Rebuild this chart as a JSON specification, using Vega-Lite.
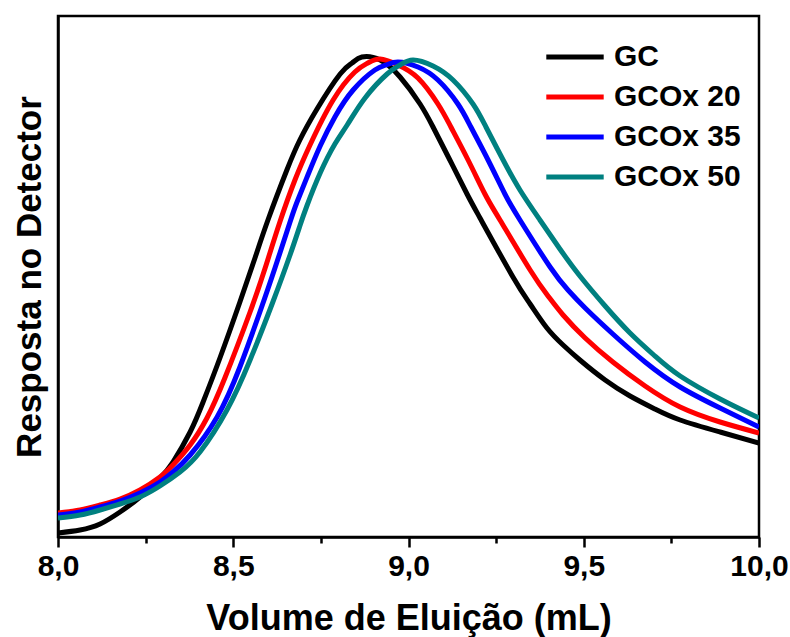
{
  "$schema": "https://vega.github.io/schema/vega-lite/v6.json",
  "width": 701,
  "height": 521,
  "autosize": "none",
  "padding": {"left": 58, "top": 16, "right": 31, "bottom": 100},
  "background": "white",
  "config": {
    "font": "Liberation Sans",
    "view": {"stroke": "black", "strokeWidth": 2.5},
    "axis": {"domainColor": "black", "domainWidth": 2.5, "grid": false}
  },
  "data": {
    "values": [
      {"v": 8.000, "r": 7, "s": "GC"}, {"v": 8.063, "r": 10, "s": "GC"}, {"v": 8.120, "r": 16, "s": "GC"},
      {"v": 8.177, "r": 28, "s": "GC"}, {"v": 8.234, "r": 43, "s": "GC"}, {"v": 8.291, "r": 62, "s": "GC"},
      {"v": 8.328, "r": 78, "s": "GC"}, {"v": 8.377, "r": 108, "s": "GC"}, {"v": 8.414, "r": 138, "s": "GC"},
      {"v": 8.462, "r": 182, "s": "GC"}, {"v": 8.519, "r": 238, "s": "GC"}, {"v": 8.562, "r": 282, "s": "GC"},
      {"v": 8.599, "r": 320, "s": "GC"}, {"v": 8.653, "r": 370, "s": "GC"}, {"v": 8.690, "r": 400, "s": "GC"},
      {"v": 8.739, "r": 431, "s": "GC"}, {"v": 8.805, "r": 466, "s": "GC"}, {"v": 8.839, "r": 477, "s": "GC"},
      {"v": 8.867, "r": 483, "s": "GC"}, {"v": 8.919, "r": 480, "s": "GC"}, {"v": 8.976, "r": 463, "s": "GC"},
      {"v": 9.033, "r": 436, "s": "GC"}, {"v": 9.070, "r": 413, "s": "GC"}, {"v": 9.118, "r": 380, "s": "GC"},
      {"v": 9.167, "r": 346, "s": "GC"}, {"v": 9.204, "r": 322, "s": "GC"}, {"v": 9.298, "r": 263, "s": "GC"},
      {"v": 9.347, "r": 236, "s": "GC"}, {"v": 9.395, "r": 212, "s": "GC"}, {"v": 9.441, "r": 195, "s": "GC"},
      {"v": 9.489, "r": 180, "s": "GC"}, {"v": 9.561, "r": 160, "s": "GC"}, {"v": 9.632, "r": 144, "s": "GC"},
      {"v": 9.703, "r": 131, "s": "GC"}, {"v": 9.775, "r": 120, "s": "GC"}, {"v": 9.889, "r": 108, "s": "GC"},
      {"v": 10.0, "r": 97, "s": "GC"},

      {"v": 8.000, "r": 27, "s": "GCOx 20"}, {"v": 8.063, "r": 30, "s": "GCOx 20"}, {"v": 8.120, "r": 35, "s": "GCOx 20"},
      {"v": 8.177, "r": 41, "s": "GCOx 20"}, {"v": 8.234, "r": 50, "s": "GCOx 20"}, {"v": 8.291, "r": 63, "s": "GCOx 20"},
      {"v": 8.328, "r": 75, "s": "GCOx 20"}, {"v": 8.377, "r": 95, "s": "GCOx 20"}, {"v": 8.425, "r": 122, "s": "GCOx 20"},
      {"v": 8.476, "r": 162, "s": "GCOx 20"}, {"v": 8.548, "r": 228, "s": "GCOx 20"}, {"v": 8.591, "r": 272, "s": "GCOx 20"},
      {"v": 8.633, "r": 318, "s": "GCOx 20"}, {"v": 8.676, "r": 360, "s": "GCOx 20"}, {"v": 8.719, "r": 395, "s": "GCOx 20"},
      {"v": 8.785, "r": 440, "s": "GCOx 20"}, {"v": 8.847, "r": 468, "s": "GCOx 20"}, {"v": 8.884, "r": 477, "s": "GCOx 20"},
      {"v": 8.919, "r": 481, "s": "GCOx 20"}, {"v": 8.970, "r": 475, "s": "GCOx 20"}, {"v": 9.027, "r": 462, "s": "GCOx 20"},
      {"v": 9.084, "r": 436, "s": "GCOx 20"}, {"v": 9.121, "r": 413, "s": "GCOx 20"}, {"v": 9.170, "r": 380, "s": "GCOx 20"},
      {"v": 9.218, "r": 346, "s": "GCOx 20"}, {"v": 9.261, "r": 320, "s": "GCOx 20"}, {"v": 9.347, "r": 270, "s": "GCOx 20"},
      {"v": 9.398, "r": 244, "s": "GCOx 20"}, {"v": 9.441, "r": 225, "s": "GCOx 20"}, {"v": 9.504, "r": 202, "s": "GCOx 20"},
      {"v": 9.583, "r": 178, "s": "GCOx 20"}, {"v": 9.675, "r": 154, "s": "GCOx 20"}, {"v": 9.775, "r": 133, "s": "GCOx 20"},
      {"v": 9.889, "r": 118, "s": "GCOx 20"}, {"v": 10.0, "r": 107, "s": "GCOx 20"},

      {"v": 8.000, "r": 25, "s": "GCOx 35"}, {"v": 8.063, "r": 28, "s": "GCOx 35"}, {"v": 8.120, "r": 33, "s": "GCOx 35"},
      {"v": 8.177, "r": 39, "s": "GCOx 35"}, {"v": 8.234, "r": 47, "s": "GCOx 35"}, {"v": 8.291, "r": 58, "s": "GCOx 35"},
      {"v": 8.328, "r": 68, "s": "GCOx 35"}, {"v": 8.377, "r": 85, "s": "GCOx 35"}, {"v": 8.454, "r": 123, "s": "GCOx 35"},
      {"v": 8.519, "r": 173, "s": "GCOx 35"}, {"v": 8.576, "r": 228, "s": "GCOx 35"}, {"v": 8.619, "r": 272, "s": "GCOx 35"},
      {"v": 8.662, "r": 318, "s": "GCOx 35"}, {"v": 8.682, "r": 338, "s": "GCOx 35"}, {"v": 8.713, "r": 365, "s": "GCOx 35"},
      {"v": 8.748, "r": 394, "s": "GCOx 35"}, {"v": 8.790, "r": 423, "s": "GCOx 35"}, {"v": 8.842, "r": 450, "s": "GCOx 35"},
      {"v": 8.904, "r": 470, "s": "GCOx 35"}, {"v": 8.936, "r": 475, "s": "GCOx 35"}, {"v": 8.970, "r": 478, "s": "GCOx 35"},
      {"v": 9.027, "r": 473, "s": "GCOx 35"}, {"v": 9.084, "r": 460, "s": "GCOx 35"}, {"v": 9.141, "r": 436, "s": "GCOx 35"},
      {"v": 9.178, "r": 413, "s": "GCOx 35"}, {"v": 9.227, "r": 380, "s": "GCOx 35"}, {"v": 9.275, "r": 346, "s": "GCOx 35"},
      {"v": 9.318, "r": 320, "s": "GCOx 35"}, {"v": 9.404, "r": 273, "s": "GCOx 35"}, {"v": 9.455, "r": 250, "s": "GCOx 35"},
      {"v": 9.504, "r": 232, "s": "GCOx 35"}, {"v": 9.583, "r": 206, "s": "GCOx 35"}, {"v": 9.675, "r": 178, "s": "GCOx 35"},
      {"v": 9.775, "r": 153, "s": "GCOx 35"}, {"v": 9.889, "r": 132, "s": "GCOx 35"}, {"v": 10.0, "r": 113, "s": "GCOx 35"},

      {"v": 8.000, "r": 22, "s": "GCOx 50"}, {"v": 8.063, "r": 25, "s": "GCOx 50"}, {"v": 8.120, "r": 30, "s": "GCOx 50"},
      {"v": 8.177, "r": 36, "s": "GCOx 50"}, {"v": 8.234, "r": 43, "s": "GCOx 50"}, {"v": 8.291, "r": 54, "s": "GCOx 50"},
      {"v": 8.348, "r": 68, "s": "GCOx 50"}, {"v": 8.405, "r": 88, "s": "GCOx 50"}, {"v": 8.482, "r": 130, "s": "GCOx 50"},
      {"v": 8.548, "r": 180, "s": "GCOx 50"}, {"v": 8.613, "r": 238, "s": "GCOx 50"}, {"v": 8.662, "r": 285, "s": "GCOx 50"},
      {"v": 8.690, "r": 314, "s": "GCOx 50"}, {"v": 8.710, "r": 334, "s": "GCOx 50"}, {"v": 8.748, "r": 367, "s": "GCOx 50"},
      {"v": 8.790, "r": 396, "s": "GCOx 50"}, {"v": 8.825, "r": 415, "s": "GCOx 50"}, {"v": 8.876, "r": 442, "s": "GCOx 50"},
      {"v": 8.939, "r": 466, "s": "GCOx 50"}, {"v": 8.976, "r": 475, "s": "GCOx 50"}, {"v": 9.013, "r": 480, "s": "GCOx 50"},
      {"v": 9.070, "r": 474, "s": "GCOx 50"}, {"v": 9.127, "r": 460, "s": "GCOx 50"}, {"v": 9.184, "r": 436, "s": "GCOx 50"},
      {"v": 9.221, "r": 413, "s": "GCOx 50"}, {"v": 9.270, "r": 380, "s": "GCOx 50"}, {"v": 9.318, "r": 350, "s": "GCOx 50"},
      {"v": 9.375, "r": 320, "s": "GCOx 50"}, {"v": 9.432, "r": 291, "s": "GCOx 50"}, {"v": 9.489, "r": 264, "s": "GCOx 50"},
      {"v": 9.561, "r": 234, "s": "GCOx 50"}, {"v": 9.632, "r": 207, "s": "GCOx 50"}, {"v": 9.703, "r": 184, "s": "GCOx 50"},
      {"v": 9.775, "r": 164, "s": "GCOx 50"}, {"v": 9.889, "r": 141, "s": "GCOx 50"}, {"v": 10.0, "r": 122, "s": "GCOx 50"}
    ]
  },
  "mark": {"type": "line", "strokeWidth": 5, "interpolate": "natural", "clip": true},
  "encoding": {
    "x": {
      "field": "v", "type": "quantitative",
      "scale": {"domain": [8, 10], "nice": false, "zero": false},
      "axis": {
        "title": "Volume de Eluição (mL)",
        "titleFontSize": 36, "titleFontWeight": "bold", "titleColor": "black", "titlePadding": 20,
        "values": [8, 8.25, 8.5, 8.75, 9, 9.25, 9.5, 9.75, 10],
        "labelExpr": "datum.value % 0.5 == 0 ? replace(format(datum.value, '.1f'), '.', ',') : ''",
        "labelFontSize": 30, "labelFontWeight": "bold", "labelColor": "black", "labelPadding": 4,
        "labelFlush": false, "labelOverlap": false,
        "tickColor": "black", "tickWidth": 2.5,
        "tickSize": {"condition": {"test": "datum.value % 0.5 == 0", "value": 10}, "value": 6}
      }
    },
    "y": {
      "field": "r", "type": "quantitative",
      "scale": {"domain": [3, 524], "nice": false, "zero": false},
      "axis": {
        "title": "Resposta no Detector",
        "titleFontSize": 35, "titleFontWeight": "bold", "titleColor": "black", "titlePadding": 11,
        "labels": false, "ticks": false
      }
    },
    "color": {
      "field": "s", "type": "nominal",
      "scale": {"domain": ["GC", "GCOx 20", "GCOx 35", "GCOx 50"], "range": ["#000000", "#ff0000", "#0000ff", "#008080"]},
      "legend": {
        "title": null, "orient": "none", "legendX": 494, "legendY": 18,
        "symbolType": "M-1.4,0H1.4", "symbolSize": 1681, "symbolStrokeWidth": 5,
        "labelFontSize": 30, "labelFontWeight": "bold", "labelColor": "black", "labelOffset": 16,
        "rowPadding": 2
      }
    }
  }
}
